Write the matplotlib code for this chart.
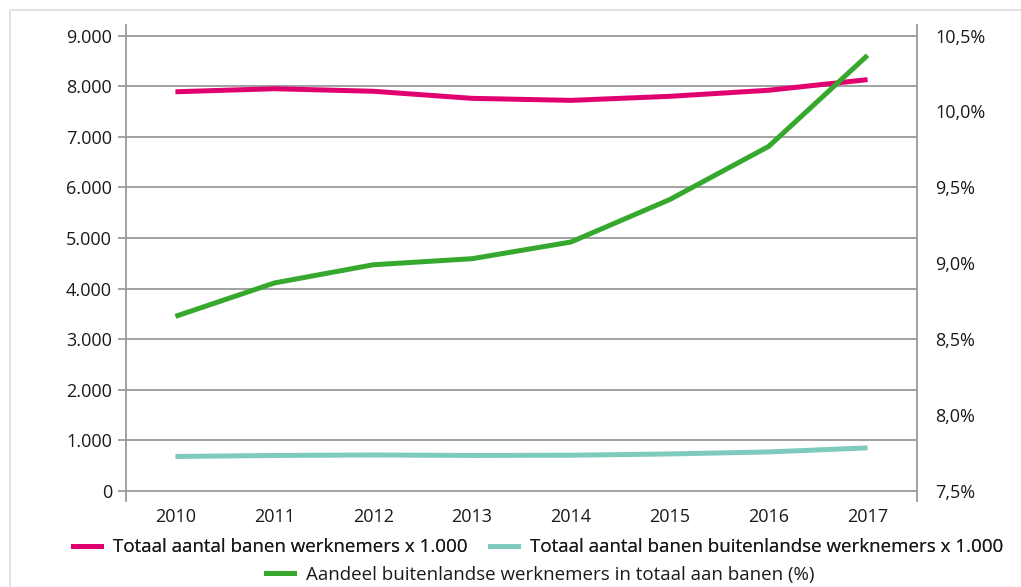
import matplotlib.pyplot as plt
from matplotlib.lines import Line2D
from matplotlib.patches import Rectangle

plt.rcParams["font.family"] = ["Open Sans", "DejaVu Sans"]

jaren = ["2010", "2011", "2012", "2013", "2014", "2015", "2016", "2017"]
banen_totaal = [7890, 7950, 7900, 7760, 7720, 7800, 7920, 8130]
banen_buitenlands = [680, 700, 710, 700, 705, 730, 770, 850]
aandeel_buitenlands = [8.65, 8.87, 8.99, 9.03, 9.14, 9.42, 9.77, 10.37]

links_ticks = list(range(0, 9001, 1000))
rechts_ticks = [7.5, 8.0, 8.5, 9.0, 9.5, 10.0, 10.5]

ROZE = "#e0006f"
TURKOOIS = "#7ecbbd"
GROEN = "#36a82e"
GRIJS = "#9a9a9a"
TEKST = "#1a1a1a"
FS = 13

fig = plt.figure(figsize=(10.21, 5.87), dpi=100)

# lichtgrijze kader rond de figuur
fig.patches.append(Rectangle((10 / 1021, -0.1), 1.2, 1.1 - 10 / 587, transform=fig.transFigure,
                             fill=False, edgecolor="#e4e4e4", linewidth=1.5))

ax = fig.add_axes([126 / 1021, 1 - 501 / 587, (917 - 126) / 1021, 476 / 587])
x = list(range(len(jaren)))

ax.plot(x, banen_totaal, color=ROZE, lw=3.6, solid_capstyle="butt", zorder=3)
ax.plot(x, banen_buitenlands, color=TURKOOIS, lw=3.6, solid_capstyle="butt", zorder=3)

ymin, ymax = -200, 9210
ax.set_ylim(ymin, ymax)
ax.set_xlim(-0.5, len(jaren) - 0.5)
ax.set_yticks(links_ticks)
ax.set_yticklabels(["{:,}".format(v).replace(",", ".") for v in links_ticks])
ax.set_xticks(x)
ax.set_xticklabels(jaren)
ax.grid(axis="y", color=GRIJS, lw=1.3)
ax.set_axisbelow(True)
for s in ["top", "bottom"]:
    ax.spines[s].set_visible(False)
for s in ["left", "right"]:
    ax.spines[s].set_color(GRIJS)
    ax.spines[s].set_linewidth(1.3)
ax.tick_params(axis="y", which="both", direction="out", length=6, width=1.3, color=GRIJS,
               left=True, right=True, labelsize=FS, pad=4, labelcolor=TEKST)
ax.tick_params(axis="x", length=0, labelsize=FS, pad=5, labelcolor=TEKST)
# rechter tickmarks iets langer
for t in ax.yaxis.get_major_ticks():
    t.tick2line.set_markersize(7.5)

ax2 = ax.twinx()
ax2.plot(x, aandeel_buitenlands, color=GROEN, lw=3.6, solid_capstyle="butt", zorder=3)
ax2.set_ylim(7.5 + ymin / 3000, 7.5 + ymax / 3000)
ax2.set_yticks(rechts_ticks)
ax2.set_yticklabels([("%.1f%%" % v).replace(".", ",") for v in rechts_ticks])
ax2.tick_params(axis="y", length=0, labelsize=FS, pad=13, labelcolor=TEKST)
for s in ax2.spines.values():
    s.set_visible(False)

h1 = [Line2D([], [], color=ROZE, lw=3.6), Line2D([], [], color=TURKOOIS, lw=3.6)]
l1 = ["Totaal aantal banen werknemers x 1.000", "Totaal aantal banen buitenlandse werknemers x 1.000"]
leg1 = fig.legend(h1, l1, loc="center", bbox_to_anchor=(0.527, 0.068), ncol=2, frameon=False,
                  fontsize=FS + 0.5, handlelength=1.5, handletextpad=0.65, columnspacing=1.2,
                  labelcolor=TEKST)
fig.add_artist(leg1)
h2 = [Line2D([], [], color=GROEN, lw=3.6)]
l2 = ["Aandeel buitenlandse werknemers in totaal aan banen (%)"]
fig.legend(h2, l2, loc="center", bbox_to_anchor=(0.529, 0.021), frameon=False,
           fontsize=FS + 0.5, handlelength=1.5, handletextpad=0.65, labelcolor=TEKST)

fig.savefig("out.png", dpi=100)
